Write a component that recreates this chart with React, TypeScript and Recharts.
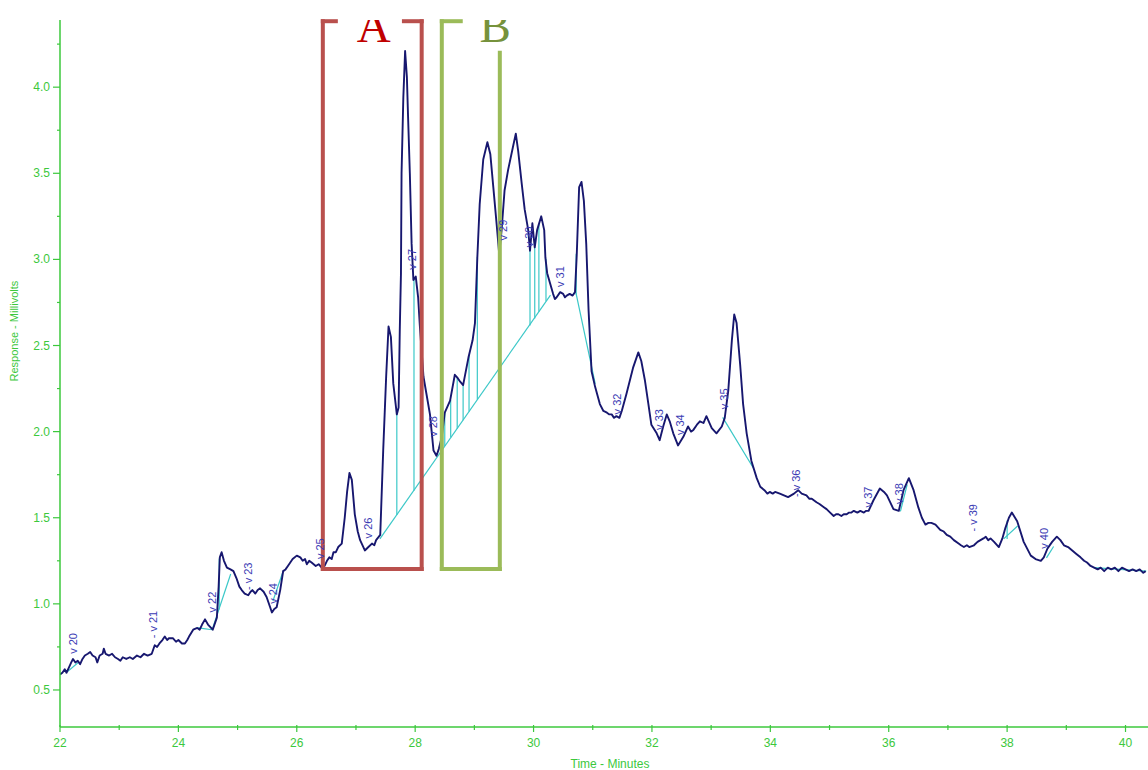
import React from 'react';
import { ComposedChart, Line, Scatter, XAxis, YAxis, ReferenceLine } from 'recharts';

const AXIS_GREEN = '#3cc83c';
const TRACE = '#17176f';
const CYAN = '#3cc8c8';
const TAG_BLUE = '#3a3ab4';

// [minutes, millivolts]
const trace: [number, number][] = [
  [22.0, 0.59], [22.04, 0.6], [22.08, 0.62], [22.11, 0.6], [22.15, 0.63], [22.19, 0.66],
  [22.22, 0.68], [22.26, 0.66], [22.3, 0.67], [22.34, 0.65], [22.38, 0.68], [22.42, 0.7],
  [22.47, 0.71], [22.51, 0.72], [22.55, 0.7], [22.6, 0.69], [22.63, 0.66], [22.67, 0.7],
  [22.72, 0.71], [22.74, 0.74], [22.77, 0.71], [22.83, 0.7], [22.88, 0.71], [22.93, 0.69],
  [22.98, 0.68], [23.02, 0.67], [23.06, 0.69], [23.12, 0.68], [23.18, 0.69], [23.23, 0.68],
  [23.3, 0.7], [23.36, 0.69], [23.42, 0.71], [23.48, 0.7], [23.55, 0.71], [23.6, 0.76],
  [23.64, 0.75], [23.68, 0.77], [23.73, 0.79], [23.77, 0.81], [23.81, 0.79], [23.84, 0.8],
  [23.91, 0.8], [23.96, 0.78], [24.0, 0.79], [24.06, 0.77], [24.11, 0.77], [24.15, 0.79],
  [24.18, 0.81], [24.25, 0.85], [24.32, 0.86], [24.36, 0.85], [24.4, 0.88], [24.45, 0.91],
  [24.5, 0.88], [24.58, 0.85], [24.65, 0.92], [24.68, 1.1], [24.7, 1.27], [24.73, 1.3],
  [24.77, 1.25], [24.82, 1.21], [24.88, 1.2], [24.93, 1.19], [24.98, 1.15], [25.03, 1.1],
  [25.07, 1.08], [25.12, 1.06], [25.18, 1.05], [25.22, 1.07], [25.25, 1.08], [25.3, 1.06],
  [25.34, 1.08], [25.38, 1.09], [25.44, 1.07], [25.49, 1.04], [25.55, 0.98], [25.58, 0.95],
  [25.62, 0.97], [25.66, 0.98], [25.72, 1.08], [25.77, 1.19], [25.81, 1.2], [25.85, 1.22],
  [25.89, 1.24], [25.93, 1.26], [26.0, 1.28], [26.06, 1.27], [26.1, 1.25], [26.14, 1.26],
  [26.17, 1.23], [26.21, 1.25], [26.25, 1.24], [26.32, 1.22], [26.37, 1.23], [26.42, 1.21],
  [26.47, 1.22], [26.51, 1.25], [26.55, 1.27], [26.59, 1.26], [26.62, 1.3], [26.66, 1.3],
  [26.7, 1.33], [26.76, 1.35], [26.81, 1.5], [26.85, 1.65], [26.89, 1.76], [26.93, 1.72],
  [26.98, 1.52], [27.03, 1.42], [27.07, 1.37], [27.15, 1.31], [27.21, 1.33], [27.27, 1.35],
  [27.31, 1.34], [27.34, 1.37], [27.41, 1.4], [27.46, 1.89], [27.51, 2.32], [27.55, 2.61],
  [27.59, 2.55], [27.63, 2.28], [27.69, 2.1], [27.72, 2.14], [27.74, 2.59], [27.76, 2.92],
  [27.77, 3.5], [27.8, 3.94], [27.83, 4.21], [27.86, 4.06], [27.88, 3.83], [27.91, 3.5],
  [27.94, 3.09], [27.97, 2.88], [28.01, 2.9], [28.05, 2.78], [28.08, 2.61], [28.14, 2.32],
  [28.19, 2.22], [28.25, 2.1], [28.31, 1.89], [28.36, 1.86], [28.4, 1.9], [28.45, 1.97],
  [28.5, 2.11], [28.59, 2.18], [28.67, 2.33], [28.72, 2.31], [28.76, 2.29], [28.81, 2.27],
  [28.9, 2.43], [28.97, 2.53], [29.01, 2.63], [29.05, 3.01], [29.09, 3.32], [29.15, 3.58],
  [29.22, 3.68], [29.27, 3.61], [29.32, 3.42], [29.38, 3.19], [29.42, 3.03], [29.46, 3.17],
  [29.51, 3.4], [29.57, 3.52], [29.65, 3.65], [29.7, 3.73], [29.74, 3.63], [29.8, 3.44],
  [29.85, 3.29], [29.91, 3.17], [29.94, 3.05], [29.98, 3.21], [30.02, 3.07], [30.06, 3.17],
  [30.13, 3.25], [30.18, 3.17], [30.2, 3.01], [30.23, 2.92], [30.28, 2.86], [30.33, 2.8],
  [30.36, 2.77], [30.39, 2.78], [30.45, 2.81], [30.5, 2.8], [30.53, 2.78], [30.56, 2.79],
  [30.61, 2.8], [30.66, 2.79], [30.7, 2.81], [30.73, 3.03], [30.77, 3.42], [30.81, 3.45],
  [30.85, 3.34], [30.89, 3.09], [30.93, 2.7], [30.98, 2.35], [31.04, 2.26], [31.12, 2.16],
  [31.18, 2.12], [31.24, 2.11], [31.28, 2.1], [31.32, 2.1], [31.36, 2.08], [31.4, 2.09],
  [31.45, 2.08], [31.49, 2.12], [31.57, 2.22], [31.68, 2.37], [31.77, 2.46], [31.82, 2.41],
  [31.88, 2.3], [31.94, 2.16], [31.99, 2.04], [32.08, 1.99], [32.13, 1.95], [32.19, 2.03],
  [32.25, 2.1], [32.3, 2.06], [32.36, 1.99], [32.44, 1.92], [32.53, 1.97], [32.61, 2.03],
  [32.66, 2.0], [32.7, 2.01], [32.76, 2.04], [32.81, 2.06], [32.87, 2.05], [32.92, 2.09],
  [33.01, 2.02], [33.09, 1.99], [33.18, 2.03], [33.23, 2.08], [33.29, 2.24], [33.35, 2.53],
  [33.39, 2.68], [33.43, 2.63], [33.49, 2.39], [33.54, 2.16], [33.6, 1.99], [33.68, 1.83],
  [33.77, 1.73], [33.83, 1.68], [33.9, 1.66], [33.95, 1.64], [33.99, 1.65], [34.04, 1.64],
  [34.08, 1.65], [34.16, 1.64], [34.23, 1.63], [34.3, 1.62], [34.35, 1.63], [34.4, 1.64],
  [34.47, 1.66], [34.53, 1.64], [34.61, 1.63], [34.66, 1.61], [34.7, 1.61], [34.74, 1.6],
  [34.78, 1.59], [34.83, 1.58], [34.87, 1.57], [34.91, 1.56], [34.95, 1.55], [35.01, 1.53],
  [35.07, 1.51], [35.11, 1.52], [35.15, 1.52], [35.2, 1.51], [35.24, 1.52], [35.29, 1.52],
  [35.33, 1.53], [35.37, 1.53], [35.41, 1.54], [35.47, 1.53], [35.52, 1.54], [35.58, 1.53],
  [35.62, 1.54], [35.66, 1.54], [35.74, 1.6], [35.85, 1.67], [35.92, 1.65], [35.97, 1.63],
  [36.08, 1.55], [36.17, 1.54], [36.25, 1.66], [36.34, 1.73], [36.42, 1.66], [36.5, 1.56],
  [36.56, 1.5], [36.62, 1.46], [36.67, 1.47], [36.72, 1.47], [36.79, 1.46], [36.87, 1.43],
  [36.93, 1.42], [36.98, 1.4], [37.04, 1.39], [37.1, 1.37], [37.18, 1.35], [37.22, 1.34],
  [37.27, 1.33], [37.32, 1.34], [37.36, 1.33], [37.44, 1.34], [37.5, 1.36], [37.55, 1.37],
  [37.6, 1.38], [37.64, 1.39], [37.68, 1.37], [37.72, 1.38], [37.78, 1.36], [37.86, 1.33],
  [37.92, 1.38], [37.97, 1.44], [38.03, 1.5], [38.08, 1.53], [38.17, 1.48], [38.28, 1.36],
  [38.4, 1.28], [38.48, 1.26], [38.57, 1.25], [38.62, 1.27], [38.68, 1.32], [38.76, 1.36],
  [38.84, 1.39], [38.9, 1.37], [38.96, 1.34], [39.03, 1.33], [39.1, 1.31], [39.17, 1.29],
  [39.24, 1.27], [39.3, 1.25], [39.35, 1.24], [39.41, 1.22], [39.47, 1.21], [39.53, 1.2],
  [39.58, 1.21], [39.64, 1.19], [39.7, 1.21], [39.76, 1.2], [39.82, 1.21], [39.88, 1.19],
  [39.94, 1.21], [40.0, 1.2], [40.06, 1.19], [40.12, 1.2], [40.18, 1.19], [40.24, 1.2],
  [40.3, 1.18], [40.34, 1.19],
];

// integration baselines: [t1, mV1, t2, mV2]
const baselines: [number, number, number, number][] = [
  [22.14, 0.61, 22.31, 0.66],
  [24.34, 0.86, 24.56, 0.85],
  [24.58, 0.86, 24.88, 1.17],
  [25.6, 1.02, 25.77, 1.19],
  [27.41, 1.38, 30.28, 2.79],
  [30.72, 2.8, 31.04, 2.28],
  [33.2, 2.08, 33.71, 1.79],
  [36.2, 1.54, 36.31, 1.69],
  [37.95, 1.38, 38.17, 1.45],
  [38.67, 1.27, 38.78, 1.33],
  [39.47, 1.21, 40.34, 1.19],
];

// peak drop lines: [t, from mV, to mV]
const drops: [number, number, number][] = [
  [24.69, 0.97, 1.26],
  [27.69, 1.52, 2.1],
  [27.98, 1.66, 2.88],
  [28.5, 1.92, 2.11],
  [28.6, 1.97, 2.18],
  [28.71, 2.02, 2.31],
  [28.81, 2.07, 2.27],
  [28.91, 2.12, 2.44],
  [29.05, 2.19, 3.01],
  [29.43, 2.37, 3.03],
  [29.94, 2.62, 3.05],
  [30.02, 2.66, 3.07],
  [30.09, 2.7, 3.2],
  [30.21, 2.76, 3.0],
  [30.72, 2.8, 3.03],
  [38.0, 1.38, 1.48],
];

// peak tags: [t, mV at start of text, text]
const peakTags: [number, number, string][] = [
  [22.22, 0.71, 'v 20'],
  [23.57, 0.8, '- v 21'],
  [24.57, 0.95, 'v 22'],
  [25.18, 1.08, '- v 23'],
  [25.6, 1.0, 'v 24'],
  [26.39, 1.26, 'v 25'],
  [27.2, 1.38, 'v 26'],
  [27.94, 2.94, 'v 27'],
  [28.3, 1.97, 'v 28'],
  [29.48, 3.11, 'v 29'],
  [29.92, 3.07, 'v 30'],
  [30.45, 2.84, 'v 31'],
  [31.41, 2.1, 'v 32'],
  [32.12, 2.01, 'v 33'],
  [32.48, 1.98, 'v 34'],
  [33.22, 2.13, 'v 35'],
  [34.43, 1.62, '- v 36'],
  [35.65, 1.56, 'v 37'],
  [36.17, 1.58, 'v 38'],
  [37.42, 1.42, '- v 39'],
  [38.62, 1.32, 'v 40'],
];

const xTicks = [22, 23, 24, 25, 26, 27, 28, 29, 30, 31, 32, 33, 34, 35, 36, 37, 38, 39, 40];
const yTicks = [0.5, 0.75, 1, 1.25, 1.5, 1.75, 2, 2.25, 2.5, 2.75, 3, 3.25, 3.5, 3.75, 4, 4.25];

// highlighted windows (minutes / mV)
const boxA = { left: 26.44, right: 28.11, bottom: 1.203, top: 4.383, gapFrom: 26.66, gapTo: 27.81 };
const boxB = { left: 28.45, right: 29.43, bottom: 1.203, top: 4.383, gapFrom: 28.77, rightTop: 4.2 };
const boxTags = [
  { t: 27.3, v: 4.26, name: 'A', color: '#c00000' },
  { t: 29.35, v: 4.26, name: 'B', color: '#76923c' },
];

const traceData = trace.map(([t, v]) => ({ t, v }));
const tagData = peakTags.map(([t, v, name]) => ({ t, v, name }));

const tickFont = 'Arial, "Liberation Sans", sans-serif';

function XTick(props: any) {
  const { x, y, payload } = props;
  const major = payload.value % 2 === 0;
  return (
    <g>
      <line x1={x} x2={x} y1={y - 2} y2={y + (major ? 5 : 3)} stroke={AXIS_GREEN} strokeWidth={1.2} />
      {major && (
        <text x={x} y={y + 16} textAnchor="middle" dominantBaseline="central" fontSize={12} fill={AXIS_GREEN} fontFamily={tickFont}>
          {payload.value}
        </text>
      )}
    </g>
  );
}

function YTick(props: any) {
  const { x, y, payload } = props;
  const major = Number.isInteger(payload.value * 2);
  return (
    <g>
      <line x1={x - (major ? 7 : 3)} x2={x} y1={y} y2={y} stroke={AXIS_GREEN} strokeWidth={1.2} />
      {major && (
        <text x={x - 10} y={y} textAnchor="end" dominantBaseline="central" fontSize={12} fill={AXIS_GREEN} fontFamily={tickFont}>
          {payload.value.toFixed(1)}
        </text>
      )}
    </g>
  );
}

function PeakTag(props: any) {
  const { cx, cy, payload } = props;
  return (
    <text
      x={cx}
      y={cy}
      transform={`rotate(-90 ${cx} ${cy})`}
      dominantBaseline="central"
      fontSize={11}
      fill={TAG_BLUE}
      fontFamily={tickFont}
    >
      {payload.name}
    </text>
  );
}

function BoxTag(props: any) {
  const { cx, cy, payload } = props;
  return (
    <text x={cx} y={cy} textAnchor="middle" fontSize={47} fill={payload.color} fontFamily='"Liberation Serif", "Times New Roman", serif'>
      {payload.name}
    </text>
  );
}

function seg(key: string, x1: number, y1: number, x2: number, y2: number, stroke: string, width: number) {
  return (
    <ReferenceLine
      key={key}
      segment={[{ x: x1, y: y1 }, { x: x2, y: y2 }]}
      stroke={stroke}
      strokeWidth={width}
      strokeLinecap="square"
      ifOverflow="visible"
    />
  );
}

export default function App() {
  const boxARed = '#b9504d';
  const boxBGreen = '#9bbb59';
  return (
    <div style={{ position: 'absolute', left: 0, top: 0, background: '#fff' }}>
      <ComposedChart width={1148} height={770} margin={{ top: 20, right: 0, bottom: 0, left: 0 }}>
        <XAxis
          type="number"
          dataKey="t"
          domain={[22, 40.38]}
          allowDataOverflow
          ticks={xTicks}
          interval={0}
          tickSize={0}
          tickMargin={0}
          tickLine={false}
          tick={<XTick />}
          height={43}
          axisLine={{ stroke: AXIS_GREEN, strokeWidth: 1.5 }}
          label={{
            content: (p: any) => (
              <text
                x={p.viewBox.x + p.viewBox.width / 2 + 6}
                y={p.viewBox.y + p.viewBox.height - 2}
                textAnchor="middle"
                fontSize={12}
                fill={AXIS_GREEN}
                fontFamily={tickFont}
              >
                Time - Minutes
              </text>
            ),
          }}
        />
        <YAxis
          type="number"
          dataKey="v"
          domain={[0.285, 4.39]}
          allowDataOverflow
          ticks={yTicks}
          interval={0}
          tickSize={0}
          tickMargin={0}
          tickLine={false}
          tick={<YTick />}
          width={60}
          axisLine={{ stroke: AXIS_GREEN, strokeWidth: 1.5 }}
          label={{
            content: (p: any) => {
              const lx = p.viewBox.x + 14;
              const ly = p.viewBox.y + p.viewBox.height * 0.44;
              return (
                <text
                  x={lx}
                  y={ly}
                  transform={`rotate(-90 ${lx} ${ly})`}
                  textAnchor="middle"
                  dominantBaseline="central"
                  fontSize={11}
                  fill={AXIS_GREEN}
                  fontFamily={tickFont}
                >
                  Response - Millivolts
                </text>
              );
            },
          }}
        />

        {baselines.map(([t1, v1, t2, v2], i) => seg(`b${i}`, t1, v1, t2, v2, CYAN, 1.2))}
        {drops.map(([t, a, b], i) => seg(`d${i}`, t, a, t, b, CYAN, 1.2))}

        <Line
          data={traceData}
          dataKey="v"
          type="linear"
          stroke={TRACE}
          strokeWidth={1.9}
          dot={false}
          strokeLinejoin="round"
          isAnimationActive={false}
        />

        <Scatter data={tagData} dataKey="v" shape={<PeakTag />} isAnimationActive={false} />

        {seg('aL', boxA.left, boxA.bottom, boxA.left, boxA.top, boxARed, 4)}
        {seg('aB', boxA.left, boxA.bottom, boxA.right, boxA.bottom, boxARed, 4)}
        {seg('aR', boxA.right, boxA.bottom, boxA.right, boxA.top, boxARed, 4)}
        {seg('aT1', boxA.left, boxA.top, boxA.gapFrom, boxA.top, boxARed, 4)}
        {seg('aT2', boxA.gapTo, boxA.top, boxA.right, boxA.top, boxARed, 4)}

        {seg('bL', boxB.left, boxB.bottom, boxB.left, boxB.top, boxBGreen, 4)}
        {seg('bB', boxB.left, boxB.bottom, boxB.right, boxB.bottom, boxBGreen, 4)}
        {seg('bR', boxB.right, boxB.bottom, boxB.right, boxB.rightTop, boxBGreen, 4)}
        {seg('bT', boxB.left, boxB.top, boxB.gapFrom, boxB.top, boxBGreen, 4)}

        <Scatter data={boxTags} dataKey="v" shape={<BoxTag />} isAnimationActive={false} />
      </ComposedChart>
    </div>
  );
}
